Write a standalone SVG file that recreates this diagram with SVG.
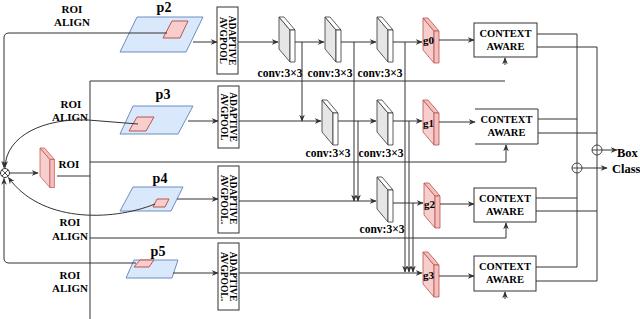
<svg xmlns="http://www.w3.org/2000/svg" xmlns:xlink="http://www.w3.org/1999/xlink" width="640" height="319" viewBox="0 0 640 319">
<style>
.t{font-family:"Liberation Serif","Times New Roman",serif;font-weight:bold;fill:#000}
.roi{font-size:11px;text-anchor:middle}
.pl{font-size:14px;text-anchor:middle}
.cv{font-size:11.5px;text-anchor:middle}
.ca{font-size:10.5px;text-anchor:middle}
.ap{font-size:9.5px;text-anchor:middle}
.gl{font-size:11px}
.out{font-size:12.5px}
.ln{fill:none;stroke:#333;stroke-width:1}
.arr{marker-end:url(#ah)}
.fm{fill:#dae8fc;stroke:#6c8ebf;stroke-width:1}
.rr{fill:#f8cecc;stroke:#b85450;stroke-width:1}
.box{fill:#fff;stroke:#333;stroke-width:1}
</style>
<defs>
<marker id="ah" markerUnits="userSpaceOnUse" markerWidth="7" markerHeight="7" viewBox="0 0 10 10" refX="9" refY="5" orient="auto">
<path d="M0,1 L10,5 L0,9 L3,5 z" fill="#333"/>
</marker>
<g id="slabGray">
<polygon points="0,0 11,13 11,45 0,32" fill="#e6e6e6" stroke="#333" stroke-width="0.8"/>
<polygon points="0,0 5,0 16,13 11,13" fill="#fff" stroke="#333" stroke-width="0.8"/>
<polygon points="11,13 16,13 16,45 11,45" fill="#fff" stroke="#333" stroke-width="0.8"/>
</g>
<g id="slabPink">
<polygon points="0,0 11,13 11,45 0,32" fill="#f8cecc" stroke="#b85450" stroke-width="0.8"/>
<polygon points="0,0 5,0 16,13 11,13" fill="#f4bfbc" stroke="#b85450" stroke-width="0.8"/>
<polygon points="11,13 16,13 16,45 11,45" fill="#f4bfbc" stroke="#b85450" stroke-width="0.8"/>
</g>
</defs>
<rect width="640" height="319" fill="#fff"/>

<!-- feature maps -->
<g id="p2">
<polygon class="fm" points="137,17 203,17 186,52 120,52"/>
<polygon class="rr" points="172,21 188,21 180,38 163,38"/>
<text class="t pl" x="164" y="12">p2</text>
</g>
<g id="p3">
<polygon class="fm" points="133,106 193,106 178,134 120,134"/>
<polygon class="rr" points="137,117 154,117 146,131 129,131"/>
<text class="t pl" x="163" y="99">p3</text>
</g>
<g id="p4">
<polygon class="fm" points="133,187 183,187 171,211 120,211"/>
<polygon class="rr" points="157,199 169,199 165,207 153,207"/>
<text class="t pl" x="160" y="183">p4</text>
</g>
<g id="p5">
<polygon class="fm" points="134,260 178,260 172,278 126,278"/>
<polygon class="rr" points="140,260 154,260 149,267 134,267"/>
<text class="t pl" x="158" y="256">p5</text>
</g>

<!-- labels -->
<g id="roi-align-labels">
<text class="t roi" x="72" y="13">ROI</text>
<text class="t roi" x="72" y="26">ALIGN</text>
<text class="t roi" x="71" y="108">ROI</text>
<text class="t roi" x="70" y="121">ALIGN</text>
<text class="t roi" x="70" y="226">ROI</text>
<text class="t roi" x="70" y="240">ALIGN</text>
<text class="t roi" x="70" y="279">ROI</text>
<text class="t roi" x="70" y="292">ALIGN</text>
</g>

<!-- ROI feature and multiply -->
<g id="roi-feature">
<use xlink:href="#slabPink" href="#slabPink" transform="translate(40,148) scale(0.9,0.88)"/>
<text class="t roi" x="69" y="168">ROI</text>
</g>
<g id="mult">
<circle cx="5" cy="173" r="4.5" fill="#fff" stroke="#333" stroke-width="1"/>
<path d="M1.8,169.8 L8.2,176.2 M8.2,169.8 L1.8,176.2" stroke="#333" stroke-width="0.9"/>
</g>

<!-- adaptive avgpool -->
<g id="ap0">
<rect class="box" x="217" y="7" width="21" height="67"/>
<text class="t ap" transform="translate(227.5,40.5) rotate(90)"><tspan x="0" y="-1.5">ADAPTIVE</tspan><tspan x="0" y="7.5">AVGPOOL</tspan></text>
</g>
<g id="ap1">
<rect class="box" x="218" y="86" width="21" height="62"/>
<text class="t ap" transform="translate(228.5,117) rotate(90)"><tspan x="0" y="-1.5">ADAPTIVE</tspan><tspan x="0" y="7.5">AVGPOOL</tspan></text>
</g>
<g id="ap2">
<rect class="box" x="218" y="166" width="21" height="67"/>
<text class="t ap" transform="translate(228.5,199.5) rotate(90)"><tspan x="0" y="-1.5">ADAPTIVE</tspan><tspan x="0" y="7.5">AVGPOOL.</tspan></text>
</g>
<g id="ap3">
<rect class="box" x="218" y="243" width="21" height="67"/>
<text class="t ap" transform="translate(228.5,276.5) rotate(90)"><tspan x="0" y="-1.5">ADAPTIVE</tspan><tspan x="0" y="7.5">AVGPOOL.</tspan></text>
</g>

<!-- convs -->
<g id="conv-r0-1"><use xlink:href="#slabGray" href="#slabGray" x="279" y="17"/><text class="t cv" x="280" y="77">conv:3×3</text></g>
<g id="conv-r0-2"><use xlink:href="#slabGray" href="#slabGray" x="325" y="17"/><text class="t cv" x="330" y="77">conv:3×3</text></g>
<g id="conv-r0-3"><use xlink:href="#slabGray" href="#slabGray" x="377" y="17"/><text class="t cv" x="380" y="77">conv:3×3</text></g>
<g id="conv-r1-1"><use xlink:href="#slabGray" href="#slabGray" x="322" y="100"/><text class="t cv" x="328" y="157">conv:3×3</text></g>
<g id="conv-r1-2"><use xlink:href="#slabGray" href="#slabGray" x="377" y="100"/><text class="t cv" x="381" y="157">conv:3×3</text></g>
<g id="conv-r2-1"><use xlink:href="#slabGray" href="#slabGray" x="377" y="177"/><text class="t cv" x="382" y="233">conv:3×3</text></g>

<!-- g nodes -->
<g id="g0"><use xlink:href="#slabPink" href="#slabPink" x="423" y="18"/><text class="t gl" x="423" y="44">g0</text></g>
<g id="g1"><use xlink:href="#slabPink" href="#slabPink" x="423" y="100"/><text class="t gl" x="423" y="127">g1</text></g>
<g id="g2"><use xlink:href="#slabPink" href="#slabPink" x="424" y="183"/><text class="t gl" x="424" y="208">g2</text></g>
<g id="g3"><use xlink:href="#slabPink" href="#slabPink" x="423" y="252"/><text class="t gl" x="423" y="279">g3</text></g>

<!-- context aware -->
<g id="ca0"><rect class="box" x="474" y="23" width="63" height="34"/><text class="t ca" x="505.5" y="37">CONTEXT</text><text class="t ca" x="505.5" y="50">AWARE</text></g>
<g id="ca1"><path class="ln" d="M475,109 H538 V144 H475"/><text class="t ca" x="506.5" y="123">CONTEXT</text><text class="t ca" x="506.5" y="136">AWARE</text></g>
<g id="ca2"><rect class="box" x="474" y="188" width="62" height="34"/><text class="t ca" x="505" y="202">CONTEXT</text><text class="t ca" x="505" y="215">AWARE</text></g>
<g id="ca3"><rect class="box" x="474" y="256" width="62" height="35"/><text class="t ca" x="505" y="270">CONTEXT</text><text class="t ca" x="505" y="283">AWARE</text></g>

<!-- sum nodes and outputs -->
<g id="sum-box">
<circle cx="597" cy="150" r="5" fill="#fff" stroke="#333" stroke-width="0.9"/>
<path d="M592,150 H602 M597,145 V155" stroke="#333" stroke-width="0.9"/>
<text class="t out" x="617" y="157">Box</text>
</g>
<g id="sum-class">
<circle cx="577" cy="168" r="5" fill="#fff" stroke="#333" stroke-width="0.9"/>
<path d="M572,168 H582 M577,163 V173" stroke="#333" stroke-width="0.9"/>
<text class="t out" x="612" y="173">Class</text>
</g>

<!-- connectors -->
<g id="connectors">
<path class="ln arr" d="M167,33 H9 Q4,33 4,38 V167.5"/>
<path class="ln arr" d="M136,263 H9 Q4,263 4,258 V178.5"/>
<path class="ln arr" d="M138,124 L88,120 C45,118 6,135 5,167.5"/>
<path class="ln arr" d="M155,204 C110,222 40,222 8.5,177.5"/>
<path class="ln arr" d="M10,173 H38"/>
<path class="ln" d="M57,176 H90"/>
<path class="ln" d="M90,319 V81 H505"/>
<path class="ln arr" d="M505,65 V58"/>
<path class="ln arr" d="M90,162 H506 V145"/>
<path class="ln arr" d="M90,238 H506 V223"/>
<path class="ln arr" d="M505,299 V292"/>
<path class="ln arr" d="M193,42 H217"/>
<path class="ln arr" d="M188,121 H218"/>
<path class="ln arr" d="M177,199 H218"/>
<path class="ln arr" d="M173,273 H218"/>
<path class="ln arr" d="M238,42 H278"/>
<path class="ln arr" d="M295,42 H324"/>
<path class="ln arr" d="M341,42 H376"/>
<path class="ln arr" d="M393,42 H422"/>
<path class="ln arr" d="M302,42 V121"/>
<path class="ln arr" d="M354,42 V201"/>
<path class="ln arr" d="M405,42 V272"/>
<path class="ln arr" d="M239,121 H321"/>
<path class="ln arr" d="M338,121 H376"/>
<path class="ln arr" d="M393,121 H422"/>
<path class="ln arr" d="M358,121 V201"/>
<path class="ln arr" d="M409,121 V272"/>
<path class="ln arr" d="M239,201 H376"/>
<path class="ln arr" d="M393,203 H423"/>
<path class="ln arr" d="M413,203 V272"/>
<path class="ln arr" d="M239,273 H422"/>
<path class="ln arr" d="M439,40 H474"/>
<path class="ln arr" d="M439,122 H475"/>
<path class="ln arr" d="M440,204 H474"/>
<path class="ln arr" d="M439,276 H474"/>
<path class="ln" d="M537,34 H577 V163 M577,173 V267 H536"/>
<path class="ln" d="M537,47 H597 V145 M597,155 V281 H536"/>
<path class="ln" d="M538,119 H577 M538,133 H597 M536,198 H577 M536,211 H597"/>
<path class="ln arr" d="M602,150 H617"/>
<path class="ln arr" d="M582,168 H607"/>
</g>
</svg>
